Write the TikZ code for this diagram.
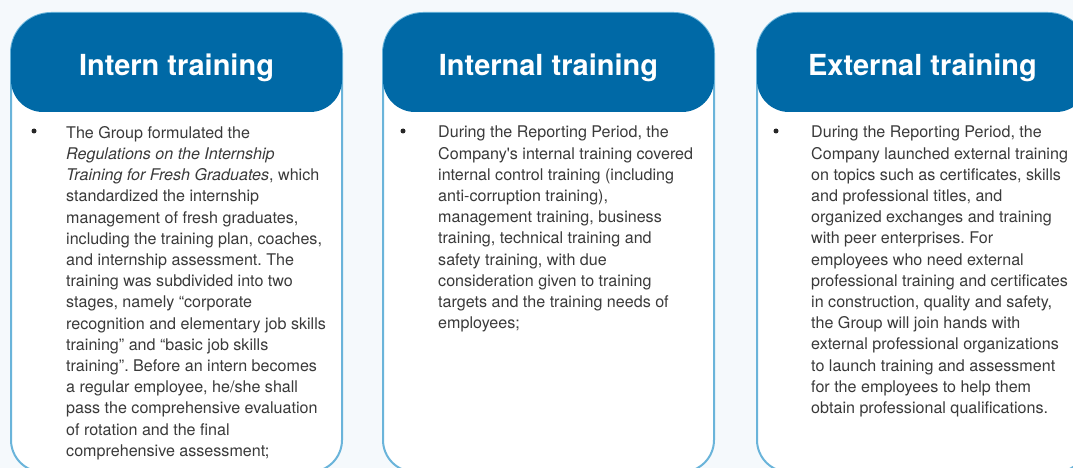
\documentclass[tikz,border=0pt]{standalone}
\usepackage{fontspec}
\setmainfont{TeX Gyre Heros}[Ligatures=TeXOff]
\frenchspacing
\definecolor{bgc}{HTML}{F5F9FC}
\definecolor{hdr}{HTML}{0069A6}
\definecolor{brd}{HTML}{6AB4DA}
\definecolor{txt}{HTML}{3A3A3A}
\tikzset{
  boxframe/.style={draw=brd, line width=2pt, fill=white},
  hdrfill/.style={fill=hdr},
  hdrtext/.style={text=white, font=\fontsize{29}{32}\selectfont\bfseries, inner sep=0pt, anchor=base},
  bodytext/.style={text=txt, font=\fontsize{16.1}{21.2}\selectfont, align=left, anchor=north west, inner sep=0pt},
  bulletdot/.style={circle, fill=black!85, inner sep=0pt, minimum size=5pt}
}
\newcommand{\trainbox}[1]{%
  \draw[boxframe] (#1,53) -- (#1,440) arc[start angle=180,end angle=90,radius=32] -- (#1+299,472) arc[start angle=90,end angle=0,radius=32] -- (#1+331,53) arc[start angle=0,end angle=-90,radius=40] -- (#1+40,13) arc[start angle=-90,end angle=-180,radius=40] -- cycle;
  \fill[hdrfill] (#1,53) -- (#1,80) arc[start angle=180,end angle=90,radius=32] -- (#1+299,112) arc[start angle=90,end angle=0,radius=32] -- (#1+331,53) arc[start angle=0,end angle=-90,radius=40] -- (#1+40,13) arc[start angle=-90,end angle=-180,radius=40] -- cycle;
}
\begin{document}
\begin{tikzpicture}[x=1pt,y=-1pt]
\clip (0,0) rectangle (1073,468);
\fill[bgc] (0,0) rectangle (1073,468);
\trainbox{11}
\trainbox{383}
\trainbox{757}
\node[hdrtext] (h1) at (176.5,76) {Intern training};
\node[hdrtext] (h2) at (548.5,76) {Internal training};
\node[hdrtext] (h3) at (922.5,76) {External training};
\node[bulletdot] (d1) at (34,131) {};
\node[bulletdot] (d2) at (403,131) {};
\node[bulletdot] (d3) at (776,131) {};
\node[bodytext] (b1) at (66,126) {The Group formulated the\\
\textit{Regulations on the Internship}\\
\textit{Training for Fresh Graduates}, which\\
standardized the internship\\
management of fresh graduates,\\
including the training plan, coaches,\\
and internship assessment. The\\
training was subdivided into two\\
stages, namely “corporate\\
recognition and elementary job skills\\
training” and “basic job skills\\
training”. Before an intern becomes\\
a regular employee, he/she shall\\
pass the comprehensive evaluation\\
of rotation and the final\\
comprehensive assessment;};
\node[bodytext] (b2) at (438,126) {During the Reporting Period, the\\
Company's internal training covered\\
internal control training (including\\
anti-corruption training),\\
management training, business\\
training, technical training and\\
safety training, with due\\
consideration given to training\\
targets and the training needs of\\
employees;};
\node[bodytext] (b3) at (811,126) {During the Reporting Period, the\\
Company launched external training\\
on topics such as certificates, skills\\
and professional titles, and\\
organized exchanges and training\\
with peer enterprises. For\\
employees who need external\\
professional training and certificates\\
in construction, quality and safety,\\
the Group will join hands with\\
external professional organizations\\
to launch training and assessment\\
for the employees to help them\\
obtain professional qualifications.};
\end{tikzpicture}
\end{document}
